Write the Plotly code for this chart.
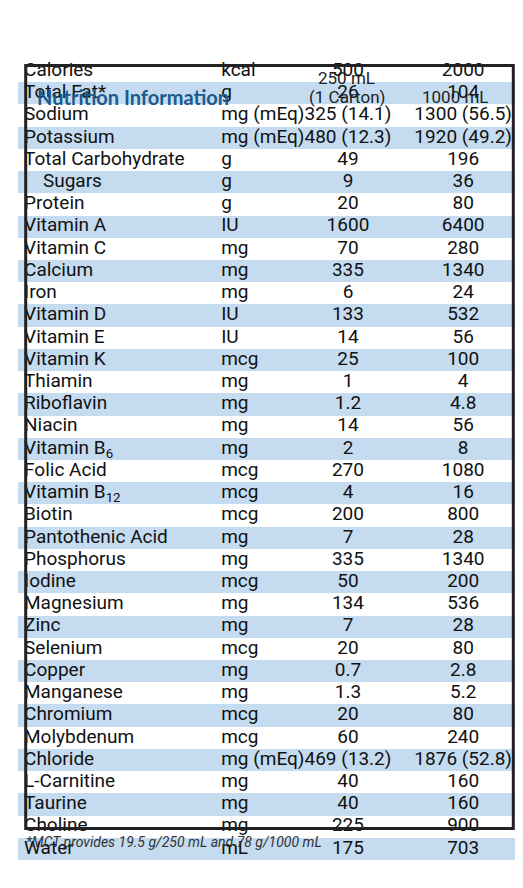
import plotly.graph_objects as go

# Table data
nutrients = ["Calories", "Total Fat*", "Sodium", "Potassium", "Total Carbohydrate",
             "\u00a0\u00a0\u00a0\u00a0Sugars", "Protein", "Vitamin A", "Vitamin C", "Calcium",
             "Iron", "Vitamin D", "Vitamin E", "Vitamin K", "Thiamin", "Riboflavin",
             "Niacin", "Vitamin B<sub>6</sub>", "Folic Acid", "Vitamin B<sub>12</sub>",
             "Biotin", "Pantothenic Acid", "Phosphorus", "Iodine", "Magnesium", "Zinc",
             "Selenium", "Copper", "Manganese", "Chromium", "Molybdenum", "Chloride",
             "L-Carnitine", "Taurine", "Choline", "Water"]
units = ["kcal", "g", "mg (mEq)", "mg (mEq)", "g", "g", "g", "IU", "mg", "mg",
         "mg", "IU", "IU", "mcg", "mg", "mg", "mg", "mg", "mcg", "mcg",
         "mcg", "mg", "mg", "mcg", "mg", "mg", "mcg", "mg", "mg", "mcg",
         "mcg", "mg (mEq)", "mg", "mg", "mg", "mL"]
per_250 = ["500", "26", "325 (14.1)", "480 (12.3)", "49", "9", "20", "1600", "70", "335",
           "6", "133", "14", "25", "1", "1.2", "14", "2", "270", "4",
           "200", "7", "335", "50", "134", "7", "20", "0.7", "1.3", "20",
           "60", "469 (13.2)", "40", "40", "225", "175"]
per_1000 = ["2000", "104", "1300 (56.5)", "1920 (49.2)", "196", "36", "80", "6400", "280", "1340",
            "24", "532", "56", "100", "4", "4.8", "56", "8", "1080", "16",
            "800", "28", "1340", "200", "536", "28", "80", "2.8", "5.2", "80",
            "240", "1876 (52.8)", "160", "160", "900", "703"]

W, H = 523, 888
FONT = "Roboto, sans-serif"
BLUE = "#c5dcf0"
TXT = "#111"

rows = list(range(len(nutrients)))
shaded = [i for i in rows if i % 2]

fig = go.Figure()
# alternating row bands
fig.add_trace(go.Bar(y=shaded, x=[1] * len(shaded), base=0, width=1, orientation="h",
                     marker=dict(color=BLUE, line_width=0), hoverinfo="skip"))

def col(x, texts, pos):
    fig.add_trace(go.Scatter(x=[x] * len(texts), y=rows, text=texts, mode="text",
                             textposition=pos, hoverinfo="skip",
                             textfont=dict(family=FONT, size=19, color=TXT)))

col(0.012, nutrients, "middle right")
col(0.404, units, "middle right")
col(0.656, per_250, "middle center")
col(0.885, per_1000, "middle center")

fig.add_shape(type="rect", xref="paper", yref="paper",
              x0=8 / W, x1=515 / W, y0=1 - 853 / H, y1=1 - 6 / H,
              line=dict(color="#222", width=3), layer="above")

def ann(text, x, y, size, color, family=FONT, anchor="center"):
    fig.add_annotation(text=text, xref="paper", yref="paper", x=x / W, y=1 - y / H,
                       xanchor=anchor, yanchor="middle", showarrow=False,
                       font=dict(family=family, size=size, color=color))

ann("<b>Nutrition Information</b>", 18, 41, 20, "#1a5a8c", "Lato, Open Sans, sans-serif", "left")
ann("250 mL", 342, 20, 17, "#222")
ann("(1 Carton)", 342, 41, 17, "#222")
ann("1000 mL", 455, 41, 17, "#222")
ann("<i>*MCT provides 19.5 g/250 mL and 78 g/1000 mL</i>", 6, 868, 14, "#333", anchor="left")

fig.update_layout(width=W, height=H, margin=dict(l=10, r=10, t=52, b=36),
                  paper_bgcolor="white", plot_bgcolor="white", showlegend=False,
                  bargap=0,
                  xaxis=dict(range=[0, 1], visible=False, fixedrange=True),
                  yaxis=dict(range=[len(rows) - 0.5, -0.5], visible=False, fixedrange=True))
fig.write_html("out.html")
